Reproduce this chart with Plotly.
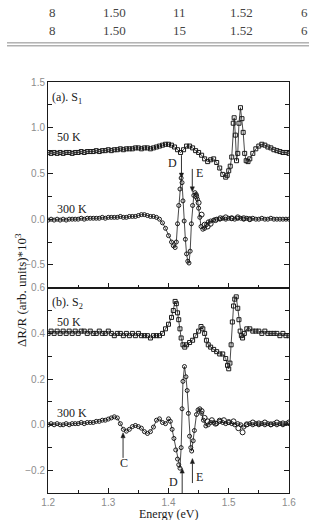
import plotly.graph_objects as go

# ---------------- data ----------------
table_rows = [["8", "1.50", "11", "1.52", "6"],
              ["8", "1.50", "15", "1.52", "6"]]

# panel (a) S1, 50 K
a50_x = [1.200, 1.205, 1.210, 1.215, 1.220, 1.225, 1.230, 1.235, 1.240, 1.245, 1.250, 1.255, 1.260, 1.265,
         1.270, 1.275, 1.280, 1.285, 1.290, 1.295, 1.300, 1.305, 1.310, 1.315, 1.320, 1.325, 1.330, 1.335,
         1.340, 1.345, 1.350, 1.355, 1.360, 1.365, 1.370, 1.375, 1.380, 1.385, 1.390, 1.395, 1.400, 1.405,
         1.410, 1.415, 1.420, 1.425, 1.430, 1.435, 1.440, 1.445, 1.450, 1.455, 1.460, 1.465, 1.470, 1.475,
         1.480, 1.485, 1.490, 1.495, 1.4975, 1.500, 1.5025, 1.505, 1.5075, 1.509, 1.511, 1.513, 1.515, 1.517,
         1.5195, 1.522, 1.524, 1.5265, 1.529, 1.532, 1.535, 1.540, 1.545, 1.550, 1.555, 1.560, 1.565, 1.570,
         1.575, 1.580, 1.585, 1.590, 1.595, 1.600]
a50_y = [0.73, 0.72, 0.73, 0.72, 0.73, 0.72, 0.73, 0.73, 0.72, 0.73, 0.73, 0.74, 0.73, 0.74,
         0.74, 0.74, 0.75, 0.74, 0.75, 0.75, 0.76, 0.75, 0.76, 0.76, 0.77, 0.76, 0.77, 0.77,
         0.77, 0.78, 0.78, 0.77, 0.78, 0.78, 0.77, 0.78, 0.79, 0.80, 0.81, 0.82, 0.82, 0.81,
         0.79, 0.76, 0.73, 0.76, 0.80, 0.80, 0.78, 0.75, 0.73, 0.70, 0.66, 0.63, 0.65, 0.66,
         0.62, 0.56, 0.49, 0.46, 0.48, 0.53, 0.58, 0.68, 1.05, 1.11, 0.92, 0.64, 0.72, 1.05,
         1.22, 1.10, 0.95, 0.72, 0.64, 0.63, 0.66, 0.72, 0.77, 0.80, 0.82, 0.81, 0.79, 0.78,
         0.76, 0.75, 0.74, 0.73, 0.73, 0.72]

# panel (a) S1, 300 K
a300_x = [1.200, 1.205, 1.210, 1.215, 1.220, 1.225, 1.230, 1.235, 1.240, 1.245, 1.250, 1.255, 1.260, 1.265,
          1.270, 1.275, 1.280, 1.285, 1.290, 1.295, 1.300, 1.305, 1.310, 1.315, 1.320, 1.325, 1.330, 1.335,
          1.340, 1.345, 1.350, 1.355, 1.360, 1.365, 1.370, 1.375, 1.380, 1.385, 1.390, 1.395, 1.400, 1.405,
          1.408, 1.411, 1.413, 1.415, 1.417, 1.419, 1.421, 1.4225, 1.424, 1.426, 1.428, 1.430, 1.432, 1.434,
          1.436, 1.438, 1.440, 1.442, 1.444, 1.446, 1.448, 1.450, 1.452, 1.454, 1.457, 1.460, 1.463, 1.466,
          1.470, 1.475, 1.480, 1.485, 1.490, 1.495, 1.500, 1.505, 1.510, 1.515, 1.520, 1.525, 1.530, 1.535,
          1.540, 1.545, 1.550, 1.555, 1.560, 1.565, 1.570, 1.575, 1.580, 1.585, 1.590, 1.595, 1.600]
a300_y = [-0.01, 0.00, -0.01, 0.00, -0.01, 0.00, -0.01, 0.00, 0.00, 0.00, 0.00, 0.01, 0.00, 0.01,
          0.01, 0.01, 0.01, 0.01, 0.02, 0.01, 0.02, 0.02, 0.02, 0.02, 0.03, 0.02, 0.02, 0.03,
          0.03, 0.03, 0.04, 0.05, 0.05, 0.04, 0.03, 0.03, 0.02, 0.00, -0.04, -0.10, -0.18, -0.25,
          -0.29, -0.31, -0.25, -0.05, 0.15, 0.33, 0.45, 0.40, 0.20, -0.02, -0.22, -0.38, -0.46, -0.48,
          -0.35, -0.05, 0.15, 0.26, 0.29, 0.27, 0.22, 0.12, 0.02, -0.08, -0.11, -0.10, -0.06, -0.03,
          -0.02, -0.01, 0.00, 0.00, 0.01, 0.00, 0.01, 0.01, 0.00, 0.01, 0.01, 0.00, 0.01, 0.00,
          0.01, 0.00, 0.00, 0.01, 0.00, 0.00, 0.01, 0.00, 0.00, 0.00, 0.00, 0.00, 0.00]
a300s_x = [1.446, 1.450, 1.455, 1.460, 1.465, 1.470, 1.478, 1.486, 1.495, 1.505, 1.515, 1.525, 1.535]
a300s_y = [0.25, 0.18, 0.05, -0.06, -0.08, -0.05, -0.01, 0.01, 0.02, 0.01, 0.02, 0.01, 0.00]

# panel (b) S2, 50 K
b50_x = [1.200, 1.205, 1.210, 1.215, 1.220, 1.225, 1.230, 1.235, 1.240, 1.245, 1.250, 1.255, 1.260, 1.265,
         1.270, 1.275, 1.280, 1.285, 1.290, 1.295, 1.300, 1.305, 1.310, 1.315, 1.320, 1.325, 1.330, 1.335,
         1.340, 1.345, 1.350, 1.355, 1.360, 1.365, 1.370, 1.375, 1.380, 1.385, 1.390, 1.395, 1.400, 1.405,
         1.408, 1.411, 1.413, 1.415, 1.417, 1.419, 1.421, 1.424, 1.427, 1.430, 1.435, 1.440, 1.445, 1.450,
         1.454, 1.457, 1.460, 1.463, 1.466, 1.470, 1.475, 1.480, 1.485, 1.490, 1.495, 1.498, 1.500, 1.502,
         1.504, 1.506, 1.508, 1.510, 1.5125, 1.515, 1.517, 1.519, 1.521, 1.523, 1.526, 1.530, 1.535, 1.540,
         1.545, 1.550, 1.555, 1.560, 1.565, 1.570, 1.575, 1.580, 1.585, 1.590, 1.595, 1.600]
b50_y = [0.40, 0.41, 0.40, 0.41, 0.40, 0.41, 0.40, 0.41, 0.40, 0.41, 0.40, 0.41, 0.41, 0.40,
         0.41, 0.40, 0.40, 0.41, 0.40, 0.40, 0.41, 0.40, 0.39, 0.40, 0.40, 0.39, 0.40, 0.39,
         0.40, 0.39, 0.40, 0.39, 0.39, 0.39, 0.38, 0.39, 0.39, 0.39, 0.40, 0.42, 0.44, 0.47,
         0.50, 0.54, 0.53, 0.49, 0.46, 0.42, 0.38, 0.35, 0.34, 0.35, 0.36, 0.37, 0.39, 0.41,
         0.43, 0.42, 0.40, 0.37, 0.35, 0.34, 0.33, 0.32, 0.31, 0.31, 0.29, 0.26, 0.245, 0.27,
         0.35, 0.45, 0.52, 0.55, 0.56, 0.51, 0.46, 0.41, 0.39, 0.38, 0.40, 0.42, 0.42, 0.41,
         0.41, 0.41, 0.40, 0.41, 0.40, 0.40, 0.40, 0.40, 0.39, 0.40, 0.39, 0.39]

# panel (b) S2, 300 K
b300_x = [1.200, 1.205, 1.210, 1.215, 1.220, 1.225, 1.230, 1.235, 1.240, 1.245, 1.250, 1.255, 1.260, 1.265,
          1.270, 1.275, 1.280, 1.285, 1.290, 1.295, 1.300, 1.305, 1.310, 1.315, 1.320, 1.325, 1.330, 1.335,
          1.340, 1.345, 1.350, 1.355, 1.360, 1.365, 1.370, 1.375, 1.380, 1.385, 1.390, 1.395, 1.400, 1.403,
          1.406, 1.409, 1.412, 1.415, 1.417, 1.419, 1.421, 1.4225, 1.424, 1.4265, 1.429, 1.431, 1.433, 1.435,
          1.437, 1.4385, 1.441, 1.443, 1.4465, 1.449, 1.452, 1.455, 1.458, 1.462, 1.466, 1.470, 1.475, 1.480,
          1.485, 1.490, 1.495, 1.500, 1.505, 1.510, 1.515, 1.520, 1.525, 1.530, 1.535, 1.540, 1.545, 1.550,
          1.555, 1.560, 1.565, 1.570, 1.575, 1.580, 1.585, 1.590, 1.595, 1.600]
b300_y = [0.000, 0.005, 0.000, 0.005, 0.000, 0.000, 0.005, 0.000, 0.005, 0.005, 0.005, 0.010, 0.005, 0.010,
          0.010, 0.010, 0.015, 0.015, 0.020, 0.020, 0.025, 0.030, 0.035, 0.030, 0.005, -0.020, -0.028, -0.020,
          -0.008, -0.003, -0.008, -0.015, -0.030, -0.038, -0.030, -0.010, 0.020, 0.026, 0.010, 0.005, 0.026, 0.015,
          -0.020, -0.060, -0.110, -0.150, -0.175, -0.190, -0.100, 0.070, 0.190, 0.255, 0.210, 0.150, 0.050, -0.050,
          -0.100, -0.115, -0.070, -0.025, 0.045, 0.065, 0.070, 0.050, 0.020, -0.005, 0.000, 0.010, 0.010, 0.005,
          0.015, 0.010, 0.005, 0.010, 0.005, 0.000, 0.005, 0.000, -0.010, 0.000, 0.005, 0.000, 0.005, 0.000,
          0.005, 0.000, 0.005, 0.000, 0.005, 0.000, 0.005, 0.000, 0.005, 0.005]
b300s_x = [1.455, 1.460, 1.465, 1.472, 1.478, 1.485, 1.492, 1.500, 1.508, 1.516, 1.523, 1.530, 1.540,
           1.550, 1.560, 1.570, 1.580, 1.590, 1.600]
b300s_y = [0.060, 0.030, 0.015, 0.020, 0.005, 0.018, 0.020, 0.012, 0.015, -0.015, -0.033, 0.002, 0.010,
           0.006, 0.010, 0.002, 0.010, 0.006, 0.010]

# ---------------- figure ----------------
BLACK = "#1a1a1a"
SERIF = "Liberation Serif, Times New Roman, serif"
fig = go.Figure()


def add_series(x, y, sym, xa, ya, mode="lines+markers", size=4):
    fig.add_trace(go.Scatter(
        x=x, y=y, mode=mode, xaxis=xa, yaxis=ya, showlegend=False,
        line=dict(color=BLACK, width=0.8),
        marker=dict(symbol=sym, size=size, color=BLACK,
                    line=dict(color=BLACK, width=1))))


add_series(a50_x, a50_y, "square-open", "x", "y")
add_series(a300_x, a300_y, "circle-open", "x", "y")
add_series(a300s_x, a300s_y, "circle-open", "x", "y", mode="markers", size=5)
add_series(b50_x, b50_y, "square-open", "x2", "y2")
add_series(b300_x, b300_y, "circle-open", "x2", "y2")
add_series(b300s_x, b300s_y, "circle-open", "x2", "y2", mode="markers", size=5)

tickfont = dict(family="Liberation Sans", size=10, color="#8c8c8c")
dom_x = [43 / 316, 295 / 316]
common_x = dict(range=[1.2, 1.6], dtick=0.1, showline=True, linecolor=BLACK, linewidth=1.2,
                mirror=True, ticks="inside", ticklen=5, tickcolor=BLACK, tickwidth=1,
                minor=dict(dtick=0.05, ticks="inside", ticklen=3, tickcolor=BLACK),
                showgrid=False, zeroline=False, tickfont=tickfont, domain=dom_x)
common_y = dict(showline=True, linecolor=BLACK, linewidth=1.2, mirror="ticks",
                ticks="inside", ticklen=5, tickcolor=BLACK, tickwidth=1,
                showgrid=False, zeroline=False, tickfont=tickfont, tickformat=".1f")

YR_A = [-0.75, 1.5]
YR_B = [-0.3, 0.6]
fig.update_layout(
    width=316, height=520, margin=dict(l=0, r=0, t=0, b=0),
    paper_bgcolor="white", plot_bgcolor="white",
    xaxis=dict(**common_x, anchor="y", showticklabels=False),
    yaxis=dict(**common_y, anchor="x", domain=[235 / 520, 443 / 520], range=YR_A,
               dtick=0.5, minor=dict(dtick=0.25, ticks="inside", ticklen=4, tickcolor=BLACK)),
    xaxis2=dict(**common_x, anchor="y2"),
    yaxis2=dict(**common_y, anchor="x2", domain=[27 / 520, 235 / 520], range=YR_B,
                dtick=0.2, minor=dict(dtick=0.1, ticks="inside", ticklen=4, tickcolor=BLACK)),
)

ann = []
shapes = []
PX_X = 0.4 / 252            # data units per pixel in x
PX_Y = {"y": 2.25 / 208, "y2": 0.9 / 208}


def text(x, y, s, xref="x", yref="y", xanchor="left", size=12):
    ann.append(dict(x=x, y=y, xref=xref, yref=yref, text=s, showarrow=False,
                    xanchor=xanchor, yanchor="middle",
                    font=dict(family=SERIF, size=size, color=BLACK)))


def arrow(x, y0, y1, xref, yref):
    """vertical arrow from y0 (tail) to y1 (head), drawn as a line plus a small filled head"""
    py = PX_Y[yref]
    d = 1 if y1 > y0 else -1
    hl, hw = 5 * py, 2.2 * PX_X
    base = y1 - d * hl
    shapes.append(dict(type="line", xref=xref, yref=yref, x0=x, x1=x, y0=y0, y1=base,
                       line=dict(color=BLACK, width=0.9)))
    shapes.append(dict(type="path", xref=xref, yref=yref,
                       path=f"M {x - hw},{base} L {x + hw},{base} L {x},{y1} Z",
                       fillcolor=BLACK, line=dict(color=BLACK, width=0.5)))


# panel labels
text(1.203, 1.33, "(a). S<sub>1</sub>")
text(1.211, 0.90, "50 K")
text(1.211, 0.11, "300 K")
text(1.203, 0.535, "(b). S<sub>2</sub>", "x2", "y2")
text(1.211, 0.45, "50 K", "x2", "y2")
text(1.211, 0.052, "300 K", "x2", "y2")

# arrows panel (a)
arrow(1.4215, 0.70, 0.45, "x", "y")
text(1.418, 0.62, "D", xanchor="right")
arrow(1.4395, 0.55, 0.30, "x", "y")
text(1.443, 0.51, "E")

# arrows panel (b)
arrow(1.3245, -0.145, -0.035, "x2", "y2")
text(1.3265, -0.168, "C", "x2", "y2", xanchor="center")
arrow(1.4227, -0.30, -0.19, "x2", "y2")
text(1.419, -0.25, "D", "x2", "y2", xanchor="right")
arrow(1.4397, -0.255, -0.148, "x2", "y2")
text(1.443, -0.228, "E", "x2", "y2")

# axis titles
ann.append(dict(x=14 / 316, y=1 - 287 / 520, xref="paper", yref="paper", showarrow=False,
                xanchor="center", yanchor="middle",
                text="ΔR/R (arb. units)*10<sup>3</sup>", textangle=-90,
                font=dict(family=SERIF, size=13, color=BLACK)))
ann.append(dict(x=169 / 316, y=1 - 514 / 520, xref="paper", yref="paper", showarrow=False,
                xanchor="center", yanchor="middle",
                text="Energy (eV)", font=dict(family=SERIF, size=12, color=BLACK)))

# table fragment at top
col_x = [48, 113, 180, 245, 311]
row_y = [7, 25]
for r, row in enumerate(table_rows):
    for c, s in enumerate(row):
        ann.append(dict(x=col_x[c] / 316, y=1 - row_y[r] / 520, xref="paper", yref="paper",
                        showarrow=False, text=s, xanchor="center", yanchor="middle",
                        font=dict(family=SERIF, size=13, color="#444444")))

shapes += [
    dict(type="line", xref="paper", yref="paper", x0=0, x1=1, y0=1 - 37.3 / 520, y1=1 - 37.3 / 520,
         line=dict(color="#8a8a8a", width=1)),
    dict(type="line", xref="paper", yref="paper", x0=0, x1=1, y0=1 - 40.3 / 520, y1=1 - 40.3 / 520,
         line=dict(color="#8a8a8a", width=1)),
]
fig.update_layout(annotations=ann, shapes=shapes)

fig.write_html("out.html")
